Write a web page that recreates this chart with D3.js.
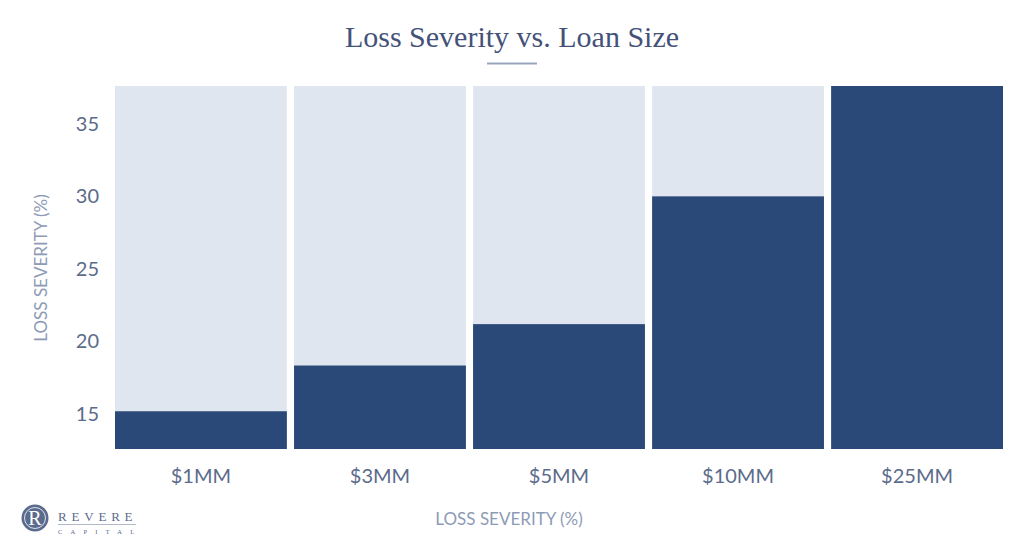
<!DOCTYPE html>
<html lang="en">
<head>
  <meta charset="UTF-8">
  <title>Loss Severity vs. Loan Size</title>
  <script src="https://d3js.org/d3.v7.min.js"></script>
  <style>
    body {
      margin: 0;
      padding: 0;
      background: #fff;
    }
    .tick text {
      font-family: Lato, sans-serif;
      fill: #5b6b8a;
    }
  </style>
</head>
<body>
  <div id="vis"></div>

  <script>
    // chart data
    const loanSizes = ["$1MM", "$3MM", "$5MM", "$10MM", "$25MM"];
    const lossSeverity = [15.2, 18.35, 21.2, 30.0, 37.6];
    const yTicks = [15, 20, 25, 30, 35];

    const width = 1024, height = 557;
    const margin = { top: 86, right: 21, bottom: 108, left: 115 };

    const svg = d3.select("#vis").append("svg")
      .attr("width", width)
      .attr("height", height);

    const x = d3.scaleBand()
      .domain(loanSizes)
      .range([margin.left, width - margin.right])
      .paddingInner(0.04)
      .paddingOuter(0);

    const y = d3.scaleLinear()
      .domain([12.6, 37.6])
      .range([height - margin.bottom, margin.top])
      .clamp(true);

    // title + short rule under it
    svg.append("text")
      .attr("x", 512)
      .attr("y", 47)
      .attr("text-anchor", "middle")
      .style("font-family", "'Liberation Serif', 'DejaVu Serif', serif")
      .style("font-size", "30px")
      .style("fill", "#44527a")
      .text("Loss Severity vs. Loan Size");

    svg.append("line")
      .attr("x1", 487).attr("x2", 537)
      .attr("y1", 63.5).attr("y2", 63.5)
      .attr("stroke", "#9aa6c0")
      .attr("stroke-width", 2);

    const data = loanSizes.map((d, i) => ({ size: d, value: lossSeverity[i] }));

    // light background columns
    svg.selectAll("rect.bg")
      .data(data)
      .enter().append("rect")
      .attr("class", "bg")
      .attr("x", d => x(d.size))
      .attr("width", x.bandwidth())
      .attr("y", y.range()[1])
      .attr("height", y.range()[0] - y.range()[1])
      .attr("fill", "#e0e6f0");

    svg.selectAll("rect.bar")
      .data(data)
      .enter().append("rect")
      .attr("class", "bar")
      .attr("x", d => x(d.size))
      .attr("width", x.bandwidth())
      .attr("y", d => y(d.value))
      .attr("height", d => y.range()[0] - y(d.value))
      .attr("fill", "#2b4978");

    // axes
    const xAxis = svg.append("g")
      .attr("transform", `translate(0,${height - margin.bottom})`)
      .call(d3.axisBottom(x).tickSize(0).tickPadding(20));
    xAxis.select(".domain").remove();
    xAxis.selectAll("text").style("font-size", "20px");

    const yAxis = svg.append("g")
      .attr("transform", `translate(${margin.left},0)`)
      .call(d3.axisLeft(y).tickValues(yTicks).tickSize(0).tickPadding(16));
    yAxis.select(".domain").remove();
    yAxis.selectAll("text").style("font-size", "20px");

    // axis titles
    svg.append("text")
      .attr("x", 509)
      .attr("y", 525)
      .attr("text-anchor", "middle")
      .style("font-family", "Lato, sans-serif")
      .style("font-size", "17px")
      .style("fill", "#8e9bb6")
      .text("LOSS SEVERITY (%)");

    svg.append("text")
      .attr("transform", "translate(47,268) rotate(-90)")
      .attr("text-anchor", "middle")
      .style("font-family", "Lato, sans-serif")
      .style("font-size", "17px")
      .style("fill", "#8e9bb6")
      .text("LOSS SEVERITY (%)");

    // Revere Capital logo
    const logo = svg.append("g");
    logo.append("circle")
      .attr("cx", 35).attr("cy", 518).attr("r", 13.5)
      .attr("fill", "#5b6b8e");
    logo.append("circle")
      .attr("cx", 35).attr("cy", 518).attr("r", 10.5)
      .attr("fill", "none")
      .attr("stroke", "#fff")
      .attr("stroke-width", 0.8);
    logo.append("text")
      .attr("x", 35).attr("y", 525)
      .attr("text-anchor", "middle")
      .style("font-family", "'Liberation Serif', serif")
      .style("font-size", "20px")
      .style("fill", "#fff")
      .text("R");
    logo.append("text")
      .attr("x", 58).attr("y", 521)
      .style("font-family", "'Liberation Serif', serif")
      .style("font-size", "13px")
      .style("letter-spacing", "4.8px")
      .style("fill", "#5b6b8e")
      .text("REVERE");
    logo.append("line")
      .attr("x1", 58).attr("x2", 136)
      .attr("y1", 524.5).attr("y2", 524.5)
      .attr("stroke", "#8e9bb6")
      .attr("stroke-width", 0.7);
    logo.append("text")
      .attr("x", 58).attr("y", 533.5)
      .style("font-family", "'Liberation Serif', serif")
      .style("font-size", "6.5px")
      .style("letter-spacing", "8.2px")
      .style("fill", "#5b6b8e")
      .text("CAPITAL");
  </script>
</body>
</html>
